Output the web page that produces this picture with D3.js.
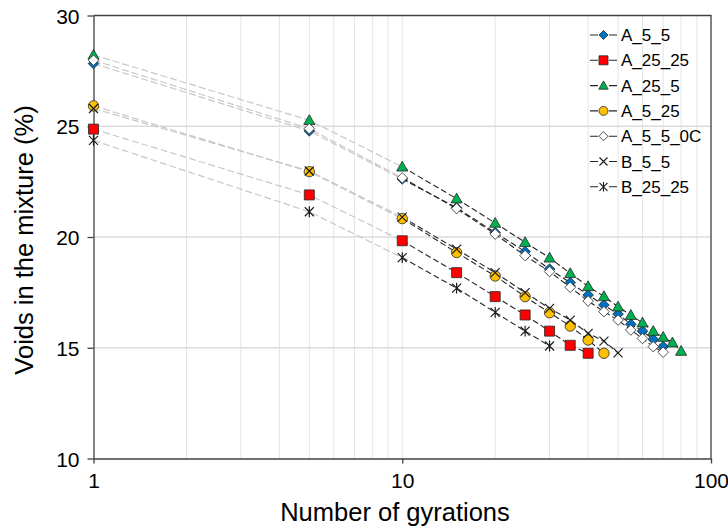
<!DOCTYPE html>
<html>
<head>
<meta charset="utf-8">
<script src="https://cdnjs.cloudflare.com/ajax/libs/d3/7.8.5/d3.min.js"></script>
<style>
  body { margin: 0; background: #fff; }
  text { font-family: "Liberation Sans", Arial, sans-serif; fill: #000; }
</style>
</head>
<body>
<script>
// data
var seriesNames = ["A_5_5", "A_25_25", "A_25_5", "A_5_25", "A_5_5_0C", "B_5_5", "B_25_25"];

var gyrA_5_5 = [1, 5, 10, 15, 20, 25, 30, 35, 40, 45, 50, 55, 60, 65, 70];
var voidsA_5_5 = [27.83, 24.79, 22.62, 21.32, 20.2, 19.34, 18.55, 17.94, 17.38, 16.93, 16.52, 16.06, 15.75, 15.38, 15.05];

var gyrA_25_25 = [1, 5, 10, 15, 20, 25, 30, 35, 40];
var voidsA_25_25 = [24.87, 21.9, 19.83, 18.39, 17.31, 16.48, 15.75, 15.11, 14.75];

var gyrA_25_5 = [1, 5, 10, 15, 20, 25, 30, 35, 40, 45, 50, 55, 60, 65, 70, 75, 80];
var voidsA_25_5 = [28.22, 25.27, 23.17, 21.73, 20.63, 19.76, 19.06, 18.36, 17.77, 17.32, 16.85, 16.47, 16.13, 15.75, 15.48, 15.23, 14.85];

var gyrA_5_25 = [1, 5, 10, 15, 20, 25, 30, 35, 40, 45];
var voidsA_5_25 = [25.92, 22.95, 20.83, 19.3, 18.24, 17.31, 16.58, 15.98, 15.35, 14.75];

var gyrA_5_5_0C = [1, 5, 10, 15, 20, 25, 30, 35, 40, 45, 50, 55, 60, 65, 70];
var voidsA_5_5_0C = [27.98, 24.89, 22.67, 21.28, 20.13, 19.16, 18.44, 17.73, 17.11, 16.63, 16.25, 15.8, 15.42, 15.05, 14.8];

var gyrB_5_5 = [1, 5, 10, 15, 20, 25, 30, 35, 40, 45, 50];
var voidsB_5_5 = [25.8, 22.98, 20.9, 19.45, 18.39, 17.49, 16.78, 16.25, 15.65, 15.3, 14.77];

var gyrB_25_25 = [1, 5, 10, 15, 20, 25, 30];
var voidsB_25_25 = [24.36, 21.14, 19.07, 17.69, 16.6, 15.75, 15.08];

var xTicks = [1, 10, 100];
var yTicks = [10, 15, 20, 25, 30];

// marker look per series
var markerTypes = ["diamond", "square", "triangle", "circle", "diamond", "x", "asterisk"];
var markerFills = ["#0070C0", "#FF0000", "#00B050", "#FFC000", "#FFFFFF", "none", "none"];

var seriesX = [gyrA_5_5, gyrA_25_25, gyrA_25_5, gyrA_5_25, gyrA_5_5_0C, gyrB_5_5, gyrB_25_25];
var seriesY = [voidsA_5_5, voidsA_25_25, voidsA_25_5, voidsA_5_25, voidsA_5_5_0C, voidsB_5_5, voidsB_25_25];

var svgWidth = 728;
var svgHeight = 529;

var plot = { left: 93.5, right: 711, top: 15.5, bottom: 458.5 };

var svg = d3.select("body")
  .append("svg")
  .attr("width", svgWidth)
  .attr("height", svgHeight);

var xScale = d3.scaleLog().domain([1, 100]).range([plot.left, plot.right]);
var yScale = d3.scaleLinear().domain([10, 30]).range([plot.bottom, plot.top]);

// gridlines
var minorX = [];
[1, 10].forEach(function(dec) {
  for (var k = 2; k <= 9; k++) minorX.push(dec * k);
});

svg.append("g")
  .selectAll("line")
  .data(minorX.concat([10]))
  .enter()
  .append("line")
  .attr("x1", d => xScale(d))
  .attr("x2", d => xScale(d))
  .attr("y1", plot.top)
  .attr("y2", plot.bottom)
  .attr("stroke", "#e4e4e4")
  .attr("stroke-width", 1);

svg.append("g")
  .selectAll("line")
  .data([15, 20, 25])
  .enter()
  .append("line")
  .attr("x1", plot.left)
  .attr("x2", plot.right)
  .attr("y1", d => yScale(d))
  .attr("y2", d => yScale(d))
  .attr("stroke", "#dcdcdc")
  .attr("stroke-width", 1.3);

// frame (top + right)
svg.append("path")
  .attr("d", `M${plot.left},${plot.top}H${plot.right}V${plot.bottom}`)
  .attr("fill", "none")
  .attr("stroke", "#404040")
  .attr("stroke-width", 1.3);

// axes
var bottomAxis = d3.axisBottom(xScale)
  .tickValues(xTicks)
  .tickFormat(d3.format("d"))
  .tickSizeInner(5)
  .tickSizeOuter(0)
  .tickPadding(10);

var leftAxis = d3.axisLeft(yScale)
  .tickValues(yTicks)
  .tickSizeInner(6)
  .tickSizeOuter(0)
  .tickPadding(8);

var xAxis = svg.append("g")
  .attr("transform", `translate(0, ${plot.bottom})`)
  .call(bottomAxis);

var yAxis = svg.append("g")
  .attr("transform", `translate(${plot.left}, 0)`)
  .call(leftAxis);

[xAxis, yAxis].forEach(function(ax) {
  ax.selectAll("path, line").attr("stroke", "#404040").attr("stroke-width", 1.3);
  ax.selectAll("text")
    .attr("font-size", "21px")
    .attr("font-family", "Liberation Sans, Arial, sans-serif")
    .attr("fill", "#000");
});
yAxis.selectAll("text").attr("dy", "0.36em");

// axis titles
svg.append("text")
  .attr("x", 395)
  .attr("y", 521)
  .attr("text-anchor", "middle")
  .attr("font-size", "25.5px")
  .text("Number of gyrations");

svg.append("text")
  .attr("transform", "translate(33, 240) rotate(-90)")
  .attr("text-anchor", "middle")
  .attr("font-size", "25.5px")
  .text("Voids in the mixture (%)");

// marker paths
function markerPath(type, r) {
  if (type === "circle") return d3.symbol(d3.symbolCircle, Math.PI * r * r)();
  if (type === "square") return `M${-r},${-r}h${2 * r}v${2 * r}h${-2 * r}Z`;
  if (type === "diamond") return `M0,${-r}L${r},0L0,${r}L${-r},0Z`;
  if (type === "triangle") return `M0,${-r * 1.05}L${r * 1.05},${r * 0.8}L${-r * 1.05},${r * 0.8}Z`;
  if (type === "x") return `M${-r},${-r}L${r},${r}M${-r},${r}L${r},${-r}`;
  if (type === "asterisk") return `M${-r},${-r}L${r},${r}M${-r},${r}L${r},${-r}M0,${-r * 1.2}V${r * 1.2}`;
}

var line = d3.line()
  .x(d => xScale(d[0]))
  .y(d => yScale(d[1]));

var plotGroup = svg.append("g");

// dashed connectors: light grey up to 10 gyrations, dark afterwards
seriesNames.forEach(function(name, i) {
  var pts = seriesX[i].map((x, j) => [x, seriesY[i][j]]);
  var early = pts.filter(d => d[0] <= 10);
  var late = pts.filter(d => d[0] >= 10);

  plotGroup.append("path")
    .attr("d", line(early))
    .attr("fill", "none")
    .attr("stroke", "#c8c8c8")
    .attr("stroke-width", 1.2)
    .attr("stroke-dasharray", "7,3");

  plotGroup.append("path")
    .attr("d", line(late))
    .attr("fill", "none")
    .attr("stroke", "#262626")
    .attr("stroke-width", 1.1)
    .attr("stroke-dasharray", "6,3");
});

// markers on top, in legend order
seriesNames.forEach(function(name, i) {
  var pts = seriesX[i].map((x, j) => [x, seriesY[i][j]]);
  var stroked = markerFills[i] === "none";
  var r = markerTypes[i] === "circle" ? 5.2 : (markerTypes[i] === "square" ? 5 : 5.3);

  plotGroup.append("g")
    .selectAll("path")
    .data(pts)
    .enter()
    .append("path")
    .attr("transform", d => `translate(${xScale(d[0])}, ${yScale(d[1])})`)
    .attr("d", markerPath(markerTypes[i], stroked ? 4.5 : r))
    .attr("fill", markerFills[i])
    .attr("stroke", stroked ? "#1a1a1a" : "#262626")
    .attr("stroke-width", stroked ? 1.2 : 0.8);
});

// legend
var legend = svg.append("g")
  .attr("transform", "translate(590, 35)");

var legendRows = legend.selectAll("g")
  .data(seriesNames)
  .enter()
  .append("g")
  .attr("transform", (d, i) => `translate(0, ${i * 25.3})`);

legendRows.append("path")
  .attr("d", "M0,0H8M19,0H27")
  .attr("stroke", "#262626")
  .attr("stroke-width", 1.1);

legendRows.append("path")
  .attr("transform", "translate(13.5, 0)")
  .attr("d", (d, i) => markerPath(markerTypes[i], markerFills[i] === "none" ? 4 : 4.5))
  .attr("fill", (d, i) => markerFills[i])
  .attr("stroke", (d, i) => markerFills[i] === "none" ? "#1a1a1a" : "#262626")
  .attr("stroke-width", (d, i) => markerFills[i] === "none" ? 1.1 : 0.8);

legendRows.append("text")
  .attr("x", 31)
  .attr("y", 0)
  .attr("dy", "0.36em")
  .attr("font-size", "17px")
  .text(d => d);
</script>
</body>
</html>
